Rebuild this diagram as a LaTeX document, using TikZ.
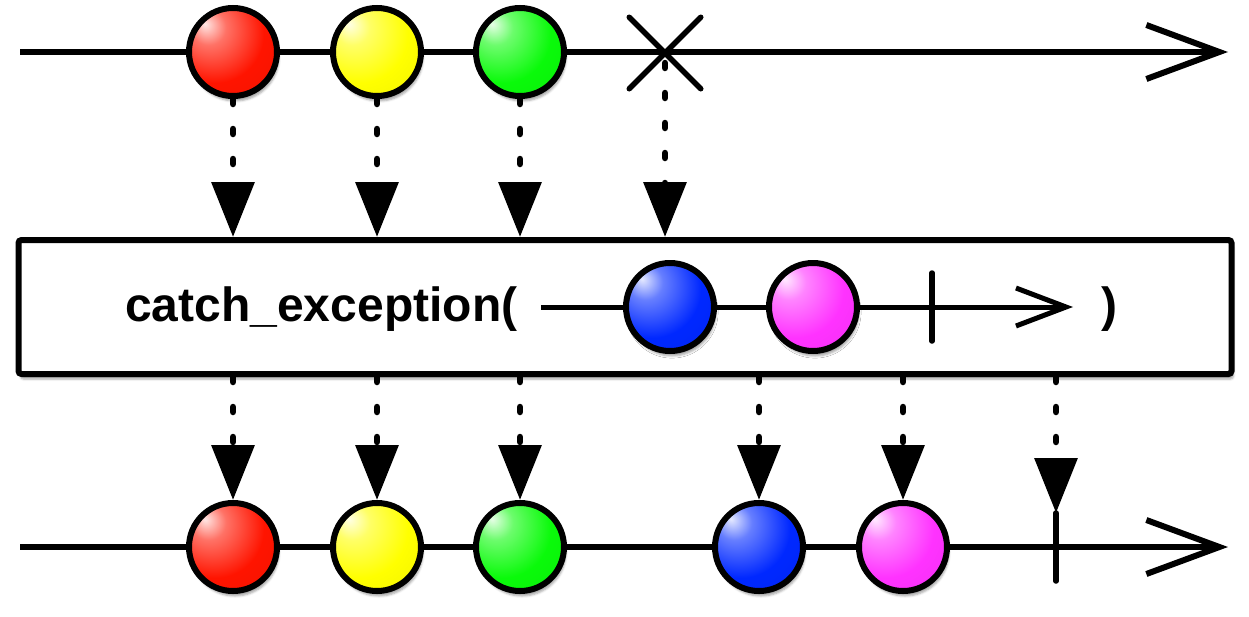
\documentclass[tikz,border=0pt]{standalone}
\usepackage{fontspec}
\setmainfont{Liberation Sans}
\usetikzlibrary{arrows.meta,shapes.misc,shadows.blur}

\definecolor{mred}{RGB}{255,20,0}
\definecolor{myellow}{RGB}{255,255,0}
\definecolor{mgreen}{RGB}{10,250,10}
\definecolor{mblue}{RGB}{0,40,255}
\definecolor{mpink}{RGB}{255,50,255}
\colorlet{mcol}{red}
\pgfdeclareradialshading[mcol]{marble}{\pgfpoint{-16bp}{16bp}}{%
  color(0bp)=(mcol!10!white); color(10bp)=(mcol!60!white);
  color(28bp)=(mcol); color(50bp)=(mcol!94!black);
  color(66bp)=(mcol!70!black); color(80bp)=(mcol!65!black)}

\begin{document}
\begin{tikzpicture}[x=1pt,y=-1pt]
	\tikzset{marble/.style={circle,draw,line width=6pt,minimum size=88pt,inner sep=0pt,
		/utils/exec={\colorlet{mcol}{#1}},shading=marble,
		blur shadow={shadow xshift=2pt,shadow yshift=-5pt,shadow opacity=35}}}
	\tikzset{timeline/.style={line width=6pt,-{Straight Barb[length=73pt,width=54pt]}}}
	\tikzset{emit/.style={line width=6.5pt,line cap=round,dash pattern=on 5pt off 25pt,
		-{Triangle[length=55pt,width=42pt]}}}
	\tikzset{stopmark/.style={inner sep=0pt,outer sep=0pt,minimum width=0pt,minimum height=68pt}}
	\tikzset{stopline/.style={line width=5.5pt,line cap=round}}
	\useasboundingbox (0,0) rectangle (1249,616);

	% source stream
	\coordinate (s0) at (20,52);
	\coordinate (s1) at (1228,52);
	\draw[timeline] (s0) -- (s1);
	\node[marble=mred] (r1) at (233,52) {};
	\node[marble=myellow] (y1) at (377,52) {};
	\node[marble=mgreen] (g1) at (520,52) {};
	\node[cross out,draw,line width=5.5pt,line cap=round,minimum size=66pt,inner sep=0pt] (err) at (665,53) {};

	% operator box
	\node[draw,fill=white,line width=6pt,rounded corners=3pt,minimum width=1213pt,minimum height=134pt,
		blur shadow={shadow xshift=2pt,shadow yshift=-5pt,shadow opacity=35}] (box) at (625,307) {};
	\node[anchor=base west,inner sep=0pt,font=\fontsize{48}{58}\selectfont\bfseries] (op) at (125,321) {catch\_exception(};
	\node[anchor=base west,inner sep=0pt,font=\fontsize{48}{58}\selectfont\bfseries] (cl) at (1101,321) {)};
	\coordinate (i0) at (541,307);
	\coordinate (i1) at (1073,307);
	\draw[line width=5pt,-{Straight Barb[length=50pt,width=38pt]}] (i0) -- (i1);
	\node[marble=mblue] (b0) at (670,307) {};
	\node[marble=mpink] (p0) at (813,307) {};
	\node[stopmark] (d1) at (932,307) {};
	\draw[stopline] (d1.north) -- (d1.south);

	% result stream
	\coordinate (t0) at (20,547);
	\coordinate (t1) at (1228,547);
	\draw[timeline] (t0) -- (t1);
	\node[marble=mred] (r2) at (233,547) {};
	\node[marble=myellow] (y2) at (377,547) {};
	\node[marble=mgreen] (g2) at (520,547) {};
	\node[marble=mblue] (b2) at (759,547) {};
	\node[marble=mpink] (p2) at (903,547) {};
	\node[stopmark] (d2) at (1056,547) {};
	\draw[stopline] (d2.north) -- (d2.south);

	% emissions
	\draw[emit] (r1.south) -- (r1 |- box.north);
	\draw[emit] (y1.south) -- (y1 |- box.north);
	\draw[emit] (g1.south) -- (g1 |- box.north);
	\draw[emit] ([yshift=-10pt]err.center) -- (err |- box.north);
	\draw[emit] (r2 |- box.south) -- (r2.north);
	\draw[emit] (y2 |- box.south) -- (y2.north);
	\draw[emit] (g2 |- box.south) -- (g2.north);
	\draw[emit] (b2 |- box.south) -- (b2.north);
	\draw[emit] (p2 |- box.south) -- (p2.north);
	\draw[emit] (d2 |- box.south) -- (d2.north);
\end{tikzpicture}
\end{document}
